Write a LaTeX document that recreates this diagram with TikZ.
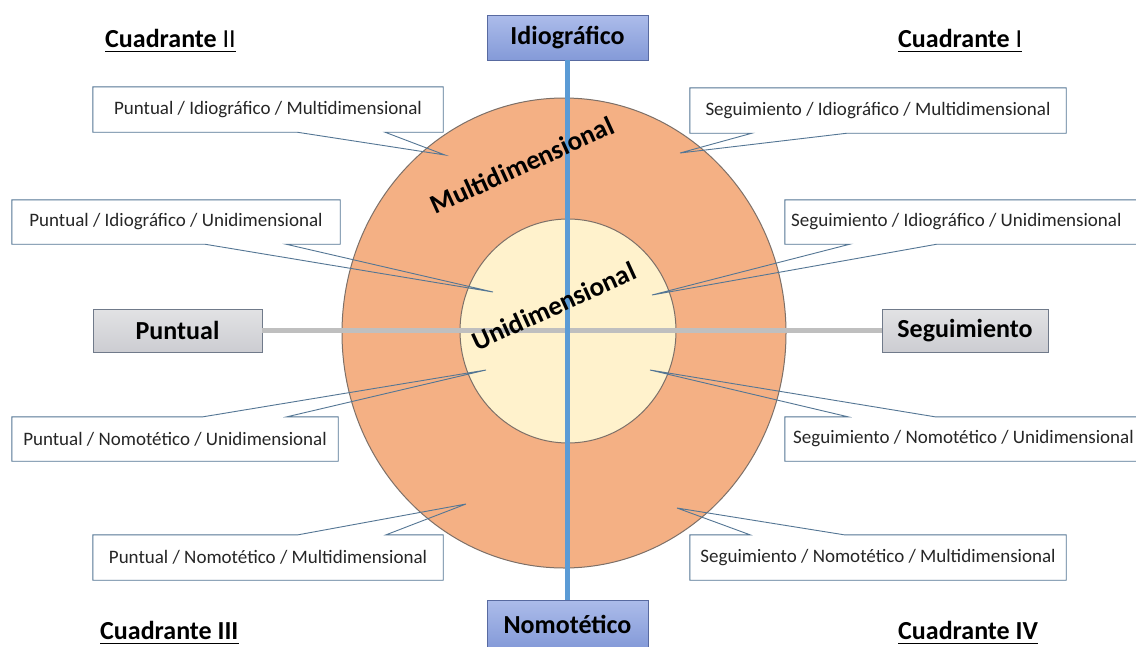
\documentclass[tikz,border=0pt]{standalone}
\usepackage{fontspec}
\setmainfont{Carlito}
\usetikzlibrary{calc}
\definecolor{orangeA}{RGB}{244,176,132}
\definecolor{creamA}{RGB}{255,242,204}
\definecolor{ringC}{RGB}{125,112,104}
\definecolor{vblue}{RGB}{91,155,213}
\definecolor{hgrey}{RGB}{191,191,191}
\definecolor{calC}{RGB}{84,118,148}
\definecolor{boxB}{RGB}{88,106,160}
\definecolor{pboxB}{RGB}{112,122,138}
\begin{document}
\begin{tikzpicture}[x=1pt,y=-1pt,
  lbl/.style={inner sep=0pt, font=\fontsize{19}{22}\selectfont, text=black!85},
  callout/.style={draw=calC, line width=0.9pt, line join=miter},
  axv/.style={draw=boxB, line width=0.9pt, top color={rgb,255:red,172;green,188;blue,234}, bottom color={rgb,255:red,132;green,154;blue,216}, minimum width=161pt, minimum height=45pt, inner sep=0pt, font=\fontsize{26}{30}\selectfont\bfseries},
  axh/.style={draw=pboxB, line width=0.9pt, top color={rgb,255:red,226;green,226;blue,228}, bottom color={rgb,255:red,204;green,205;blue,210}, minimum height=43pt, inner sep=0pt, font=\fontsize{26}{30}\selectfont\bfseries},
  quad/.style={inner sep=0pt, font=\fontsize{26}{30}\selectfont\bfseries},
  ulline/.style={line width=1.8pt},
  rot/.style={inner sep=0pt, font=\fontsize{27}{30}\selectfont\bfseries, rotate=24.5}
]
\path[use as bounding box, clip] (0,0) rectangle (1136,646);
\fill[white] (0,0) rectangle (1136,646);

% rings
\draw[fill=orangeA, draw=ringC, line width=1pt] (564,333) ellipse [x radius=222pt, y radius=235pt];
\draw[fill=creamA, draw=ringC, line width=1pt] (568,331) ellipse [x radius=108pt, y radius=112pt];

% axis boxes
\node[axv] (idio) at (567.5,37.5) {Idiográfico};
\node[axv, minimum height=48pt] (nomo) at (567.5,624) {Nomotético};
\node[axh, minimum width=169pt] (punt) at (177.5,330.5) {Puntual};
\node[axh, minimum width=166pt] (segu) at (965,330.5) {Seguimiento};

% axes
\draw[hgrey, line width=4.5pt] (punt.east) -- (segu.west);
\draw[vblue, line width=4.5pt] (idio.south) -- (nomo.north);

% ring labels
\node[rot] (multi) at (522,165) {Multidimensional};
\node[rot] (uni) at (554,306) {Unidimensional};

% quadrant titles
\node[quad, anchor=base west] (q2) at (105,47) {Cuadrante \textmd{II}};
\node[quad, anchor=base west] (q1) at (898,47) {Cuadrante \textmd{I}};
\node[quad, anchor=base west] (q3) at (100,639) {Cuadrante III};
\node[quad, anchor=base west] (q4) at (898,639) {Cuadrante IV};
\foreach \q in {q1,q2,q3,q4}
  \draw[ulline] ([yshift=-4.5pt]\q.base west) -- ([yshift=-4.5pt]\q.base east);

% tips
\coordinate (t1) at (445,155);
\coordinate (t2) at (680,153);
\coordinate (t3) at (493,292);
\coordinate (t4) at (652,295);
\coordinate (t7) at (486,370);
\coordinate (t8) at (650,370);
\coordinate (t9) at (466,504);
\coordinate (t10) at (677,508);

% label boxes (pointer below)
\node[lbl, minimum width=350pt, minimum height=45pt] (b1) at (268,109.5) {Puntual / Idiográfico / Multidimensional};
\draw[callout] (b1.north west) -- (b1.north east) -- (b1.south east)
  -- ($(b1.south west)!0.834!(b1.south east)$) -- (t1)
  -- ($(b1.south west)!0.583!(b1.south east)$) -- (b1.south west) -- cycle;

\node[lbl, minimum width=376pt, minimum height=45pt] (b2) at (878,110.5) {Seguimiento / Idiográfico / Multidimensional};
\draw[callout] (b2.north west) -- (b2.north east) -- (b2.south east)
  -- ($(b2.south west)!0.418!(b2.south east)$) -- (t2)
  -- ($(b2.south west)!0.165!(b2.south east)$) -- (b2.south west) -- cycle;

\node[lbl, minimum width=328pt, minimum height=44pt] (b3) at (176,222) {Puntual / Idiográfico / Unidimensional};
\draw[callout] (b3.north west) -- (b3.north east) -- (b3.south east)
  -- ($(b3.south west)!0.835!(b3.south east)$) -- (t3)
  -- ($(b3.south west)!0.588!(b3.south east)$) -- (b3.south west) -- cycle;

\node[lbl, minimum width=365pt, minimum height=44pt] (b4) at (967.5,222) {};
\node[lbl, anchor=west] (b4t) at (791,222) {Seguimiento / Idiográfico / Unidimensional};
\draw[callout] (b4.north west) -- (b4.north east) -- (b4.south east)
  -- ($(b4.south west)!0.416!(b4.south east)$) -- (t4)
  -- ($(b4.south west)!0.178!(b4.south east)$) -- (b4.south west) -- cycle;

% label boxes (pointer above)
\node[lbl, minimum width=326pt, minimum height=44pt] (b7) at (175,439) {Puntual / Nomotético / Unidimensional};
\draw[callout] (b7.south west) -- (b7.north west)
  -- ($(b7.north west)!0.586!(b7.north east)$) -- (t7)
  -- ($(b7.north west)!0.843!(b7.north east)$) -- (b7.north east) -- (b7.south east) -- cycle;

\node[lbl, minimum width=365pt, minimum height=44pt] (b8) at (967.5,439) {};
\node[lbl, anchor=west] (b8t) at (793,439) {Seguimiento / Nomotético / Unidimensional};
\draw[callout] (b8.south west) -- (b8.north west)
  -- ($(b8.north west)!0.173!(b8.north east)$) -- (t8)
  -- ($(b8.north west)!0.411!(b8.north east)$) -- (b8.north east) -- (b8.south east) -- cycle;

\node[lbl, minimum width=350pt, minimum height=45pt] (b9) at (268,557.5) {Puntual / Nomotético / Multidimensional};
\draw[callout] (b9.south west) -- (b9.north west)
  -- ($(b9.north west)!0.586!(b9.north east)$) -- (t9)
  -- ($(b9.north west)!0.837!(b9.north east)$) -- (b9.north east) -- (b9.south east) -- cycle;

\node[lbl, minimum width=376pt, minimum height=45pt] (b10) at (878,557.5) {Seguimiento / Nomotético / Multidimensional};
\draw[callout] (b10.south west) -- (b10.north west)
  -- ($(b10.north west)!0.160!(b10.north east)$) -- (t10)
  -- ($(b10.north west)!0.410!(b10.north east)$) -- (b10.north east) -- (b10.south east) -- cycle;
\end{tikzpicture}
\end{document}
